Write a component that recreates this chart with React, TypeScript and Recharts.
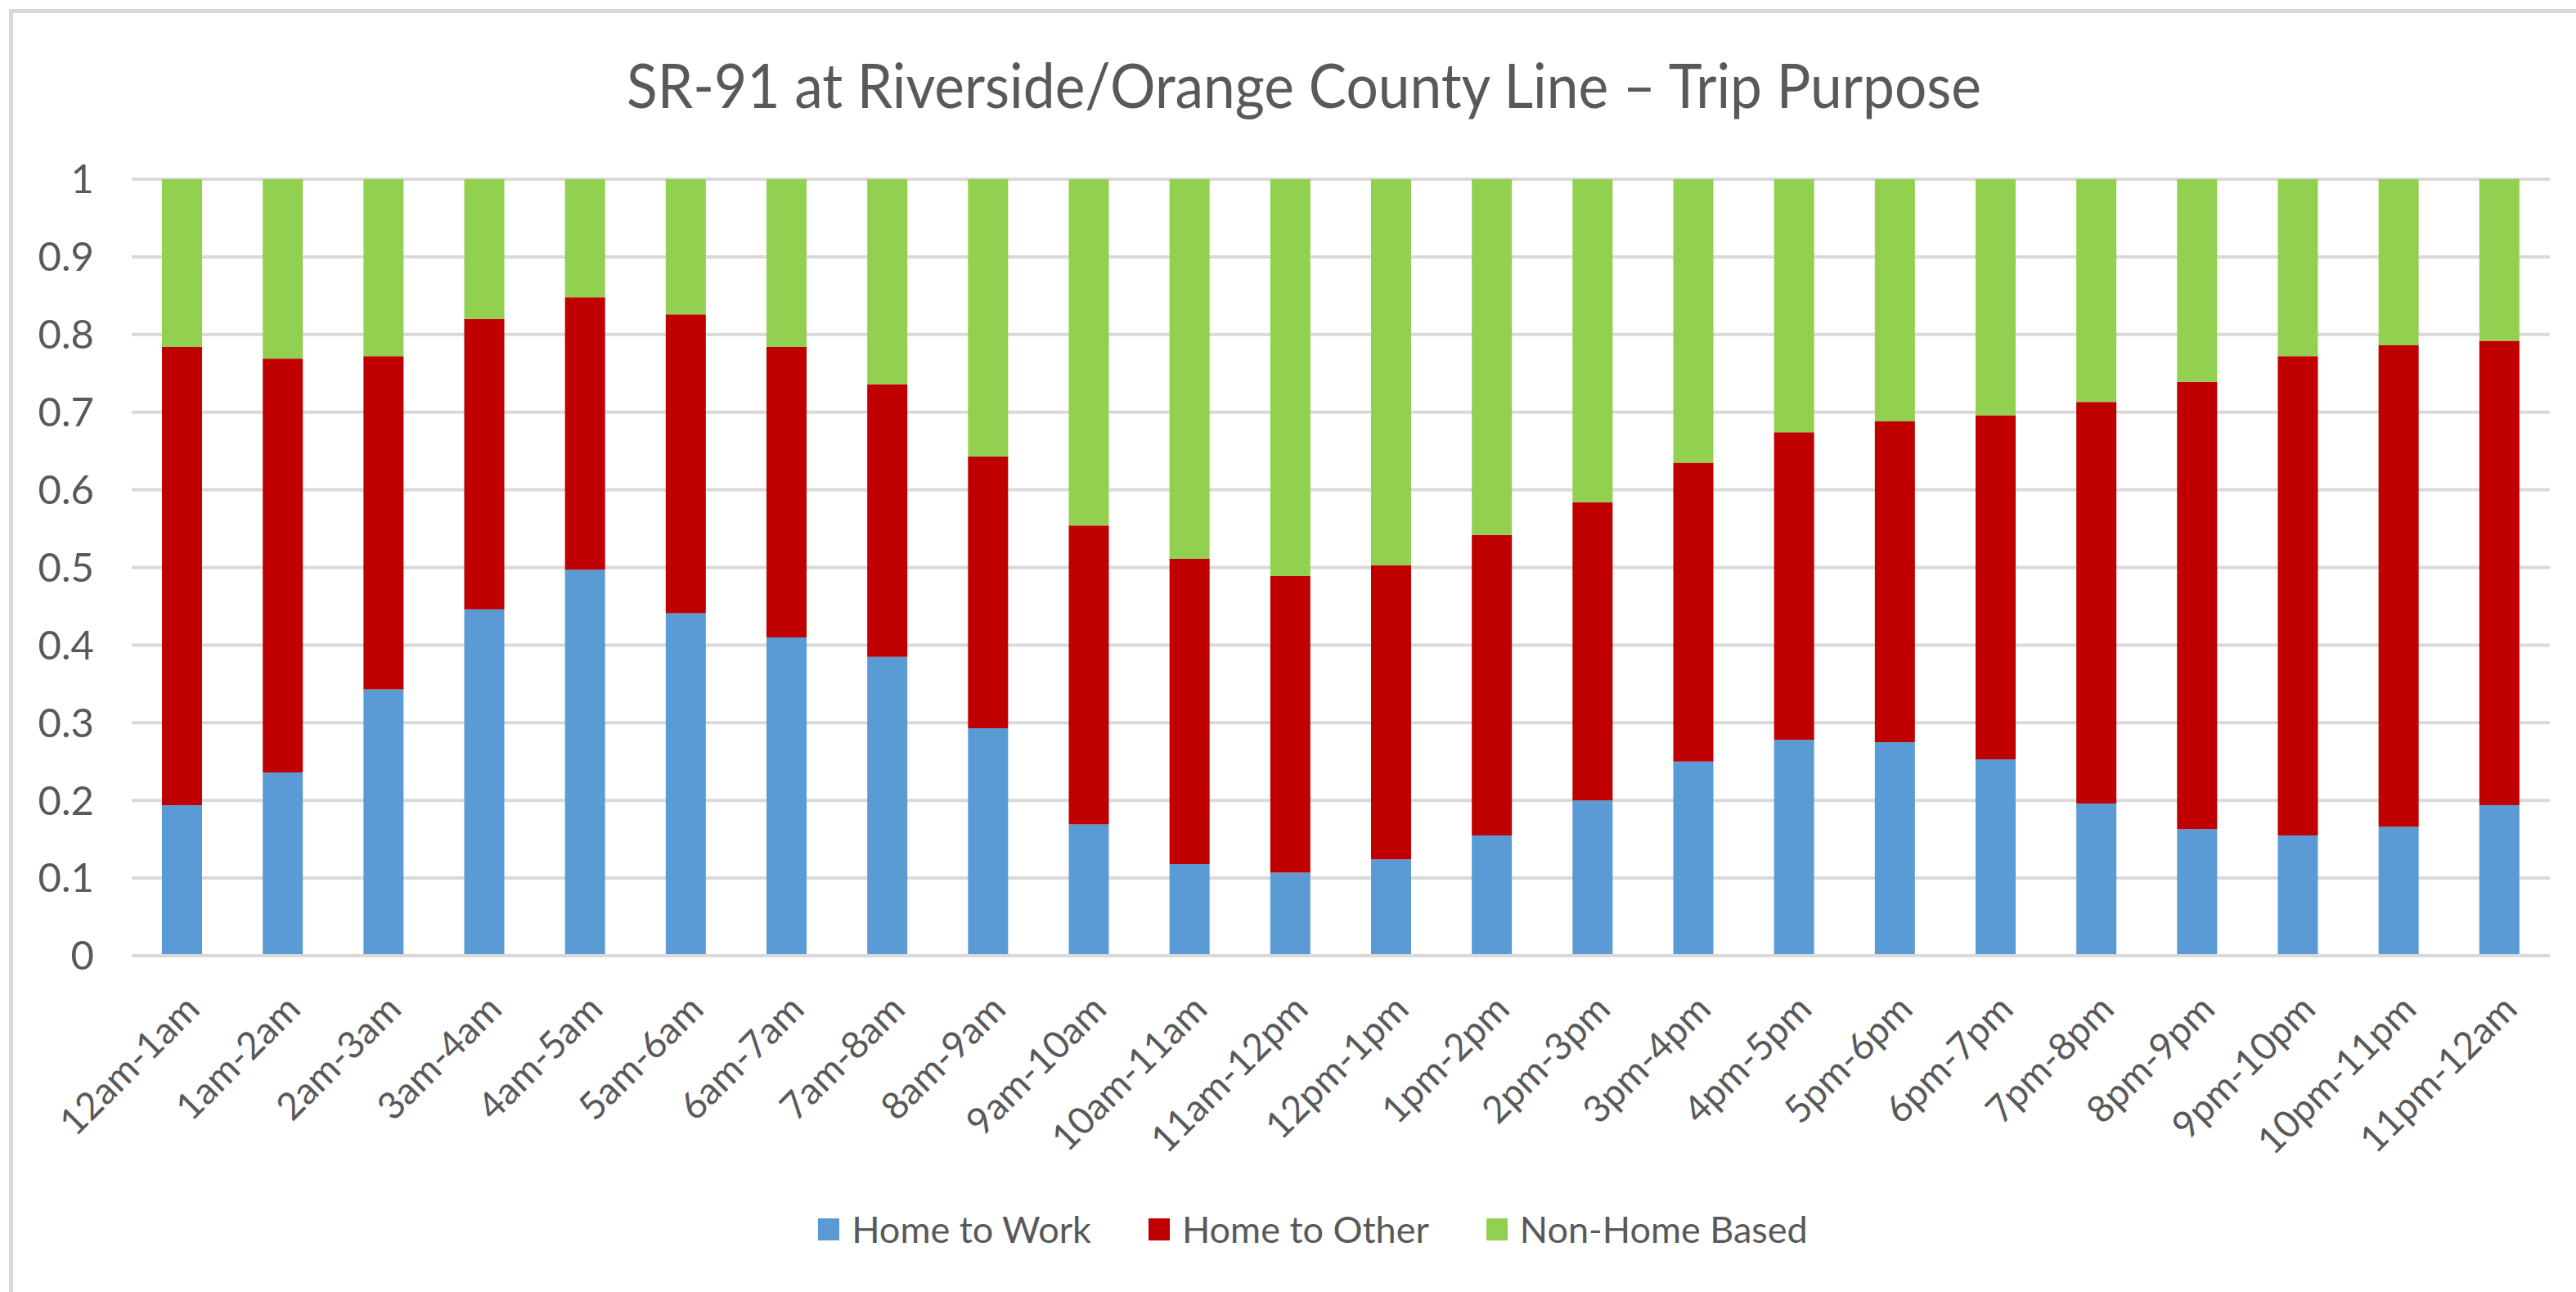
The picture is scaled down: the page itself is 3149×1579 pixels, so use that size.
import { BarChart, Bar, XAxis, YAxis, CartesianGrid } from "recharts";

const periods = [
  "12am-1am", "1am-2am", "2am-3am", "3am-4am", "4am-5am", "5am-6am",
  "6am-7am", "7am-8am", "8am-9am", "9am-10am", "10am-11am", "11am-12pm",
  "12pm-1pm", "1pm-2pm", "2pm-3pm", "3pm-4pm", "4pm-5pm", "5pm-6pm",
  "6pm-7pm", "7pm-8pm", "8pm-9pm", "9pm-10pm", "10pm-11pm", "11pm-12am",
];

const homeToWork = [
  0.194, 0.236, 0.343, 0.446, 0.497, 0.441, 0.41, 0.385, 0.293, 0.169, 0.118, 0.107,
  0.124, 0.155, 0.2, 0.25, 0.278, 0.275, 0.253, 0.196, 0.163, 0.155, 0.166, 0.194,
];

const homeToOther = [
  0.59, 0.533, 0.429, 0.374, 0.351, 0.385, 0.374, 0.351, 0.35, 0.385, 0.393, 0.382,
  0.379, 0.387, 0.384, 0.385, 0.396, 0.413, 0.443, 0.517, 0.576, 0.617, 0.62, 0.598,
];

const nonHomeBased = [
  0.216, 0.231, 0.228, 0.18, 0.152, 0.174, 0.216, 0.264, 0.357, 0.446, 0.489, 0.511,
  0.497, 0.458, 0.416, 0.365, 0.326, 0.312, 0.304, 0.287, 0.261, 0.228, 0.214, 0.208,
];

const yTicks = [0, 0.1, 0.2, 0.3, 0.4, 0.5, 0.6, 0.7, 0.8, 0.9, 1];

const series = [
  { key: "work", name: "Home to Work", color: "#5B9BD5" },
  { key: "other", name: "Home to Other", color: "#C00000" },
  { key: "nonHome", name: "Non-Home Based", color: "#92D050" },
];

const title = "SR-91 at Riverside/Orange County Line \u2013 Trip Purpose";

const FONT = "Lato, 'Open Sans', sans-serif";
const TEXT = "#595959";
const GRID = "#D9D9D9";

const data = periods.map((period, i) => ({
  period,
  work: homeToWork[i],
  other: homeToOther[i],
  nonHome: nonHomeBased[i],
}));

const XTick = ({ x, y, payload }: any) => {
  const tx = x + 24;
  const ty = y + 68;
  return (
    <text
      x={tx}
      y={ty}
      transform={`rotate(-45, ${tx}, ${ty})`}
      textAnchor="end"
      fill={TEXT}
      fontSize={46}
      fontFamily={FONT}
    >
      {payload.value}
    </text>
  );
};

const LegendItem = ({ color, label }: { color: string; label: string }) => (
  <span style={{ display: "flex", alignItems: "center", gap: 15 }}>
    <span style={{ width: 26, height: 27, background: color, display: "inline-block" }} />
    <span>{label}</span>
  </span>
);

export default function App() {
  return (
    <div
      style={{
        position: "absolute",
        left: 0,
        top: 0,
        width: 3149,
        height: 1579,
        overflow: "hidden",
        background: "#fff",
        fontFamily: FONT,
      }}
    >
      <div
        style={{
          position: "absolute",
          left: 11,
          top: 11,
          width: 3300,
          height: 1700,
          border: `5px solid ${GRID}`,
        }}
      />
      <svg style={{ position: "absolute", left: 0, top: 0 }} width={3149} height={200}>
        <text
          x={1594}
          y={132}
          textAnchor="middle"
          fill={TEXT}
          fontSize={76}
          fontFamily={FONT}
          textLength={1656}
          lengthAdjust="spacingAndGlyphs"
        >
          {title}
        </text>
      </svg>
      <div style={{ position: "absolute", left: 0, top: 0 }}>
        <BarChart
          width={3149}
          height={1579}
          data={data}
          margin={{ top: 219, right: 32, bottom: 0, left: 0 }}
          barSize={49}
        >
          <CartesianGrid vertical={false} stroke={GRID} strokeWidth={4} />
          <XAxis
            dataKey="period"
            interval={0}
            height={411}
            tickLine={false}
            tickSize={0}
            tickMargin={0}
            axisLine={{ stroke: GRID, strokeWidth: 4 }}
            tick={<XTick />}
          />
          <YAxis
            width={161}
            domain={[0, 1]}
            ticks={yTicks}
            axisLine={false}
            tickLine={false}
            tickSize={0}
            tickMargin={46}
            tick={{ fill: TEXT, fontSize: 49, fontFamily: FONT }}
          />
          {series.map((s) => (
            <Bar
              key={s.key}
              dataKey={s.key}
              name={s.name}
              stackId="a"
              fill={s.color}
              isAnimationActive={false}
            />
          ))}
        </BarChart>
      </div>
      <div
        style={{
          position: "absolute",
          left: 0,
          top: 1477,
          width: 3210,
          height: 50,
          display: "flex",
          justifyContent: "center",
          alignItems: "center",
          gap: 70,
          fontSize: 45,
          color: TEXT,
          lineHeight: 1,
        }}
      >
        {series.map((s) => (
          <LegendItem key={s.key} color={s.color} label={s.name} />
        ))}
      </div>
    </div>
  );
}
